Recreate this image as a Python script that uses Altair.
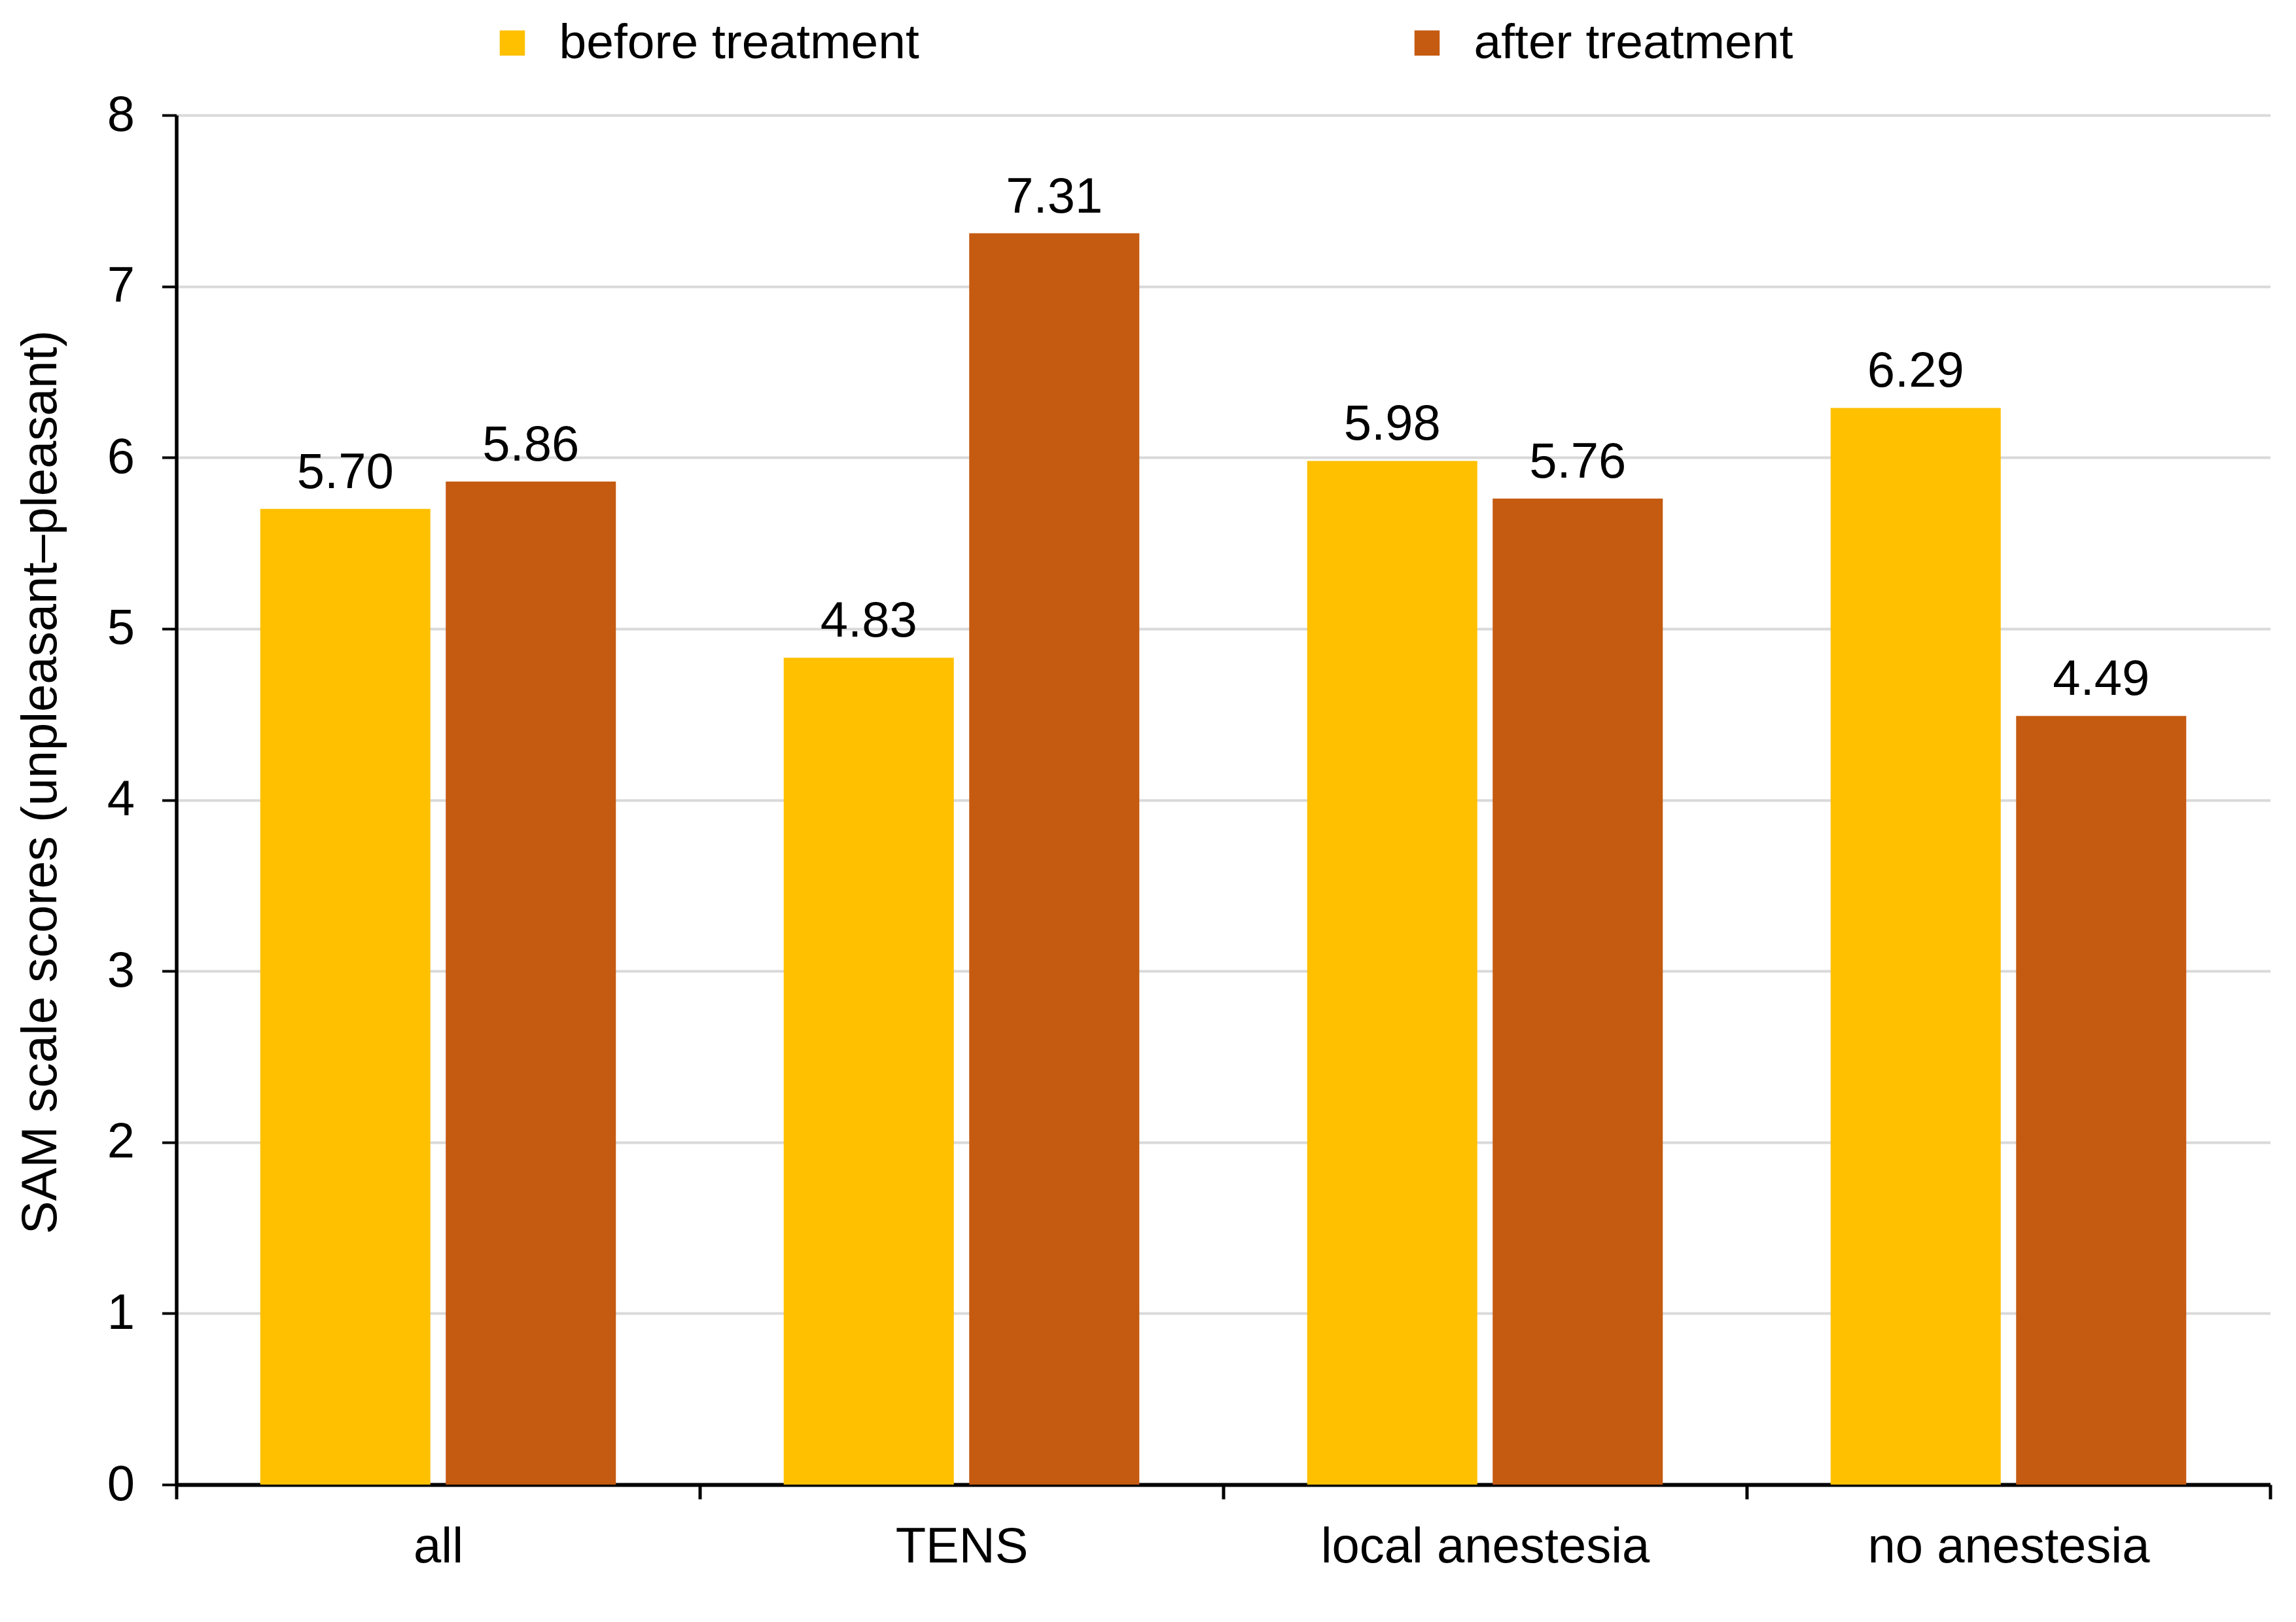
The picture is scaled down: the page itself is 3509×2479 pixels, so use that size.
import altair as alt
import pandas as pd

groups = ["all", "TENS", "local anestesia", "no anestesia"]
series = ["before treatment", "after treatment"]
before = [5.70, 4.83, 5.98, 6.29]
after = [5.86, 7.31, 5.76, 4.49]
colors = ["#FFC000", "#C55A11"]
y_ticks = [0, 1, 2, 3, 4, 5, 6, 7, 8]
y_title = "SAM scale scores (unpleasant\u2013pleasant)"

rows = []
for g, b, a in zip(groups, before, after):
    rows.append({"group": g, "series": series[0], "value": b})
    rows.append({"group": g, "series": series[1], "value": a})
df = pd.DataFrame(rows)

FONT = "Liberation Sans"
FS = 76

x = alt.X(
    "group:N",
    sort=groups,
    scale=alt.Scale(paddingInner=0, paddingOuter=0),
    axis=alt.Axis(
        title=None, tickBand="extent", labelAngle=0, labelFont=FONT,
        labelFontSize=FS, labelColor="black", labelBaseline="alphabetic",
        labelPadding=96, labelLimit=3000, tickSize=22, tickWidth=5,
        tickColor="black", domainColor="black", domainWidth=6, grid=False,
    ),
)
xo = alt.XOffset(
    "series:N", sort=series,
    scale=alt.Scale(paddingInner=0.0829, paddingOuter=0.4524),
)
y = alt.Y(
    "value:Q",
    scale=alt.Scale(domain=[0, 8], nice=False, zero=True),
    axis=alt.Axis(
        values=y_ticks, format="d", title=y_title,
        titleFont=FONT, titleFontSize=FS, titleFontWeight="normal",
        titleColor="black", titleAngle=270, titleX=-184.5, titleY=1019,
        titleAlign="center", titleBaseline="alphabetic", titleLimit=5000,
        labelFont=FONT, labelFontSize=FS, labelColor="black",
        labelPadding=42, tickSize=22, tickWidth=4, tickColor="black",
        domainColor="black", domainWidth=5.5,
        grid=True, gridColor="#D9D9D9", gridWidth=4,
    ),
)

base = alt.Chart(df).encode(x=x, xOffset=xo, y=y)

bars = base.mark_bar().encode(
    color=alt.Color(
        "series:N", sort=series,
        scale=alt.Scale(domain=series, range=colors),
        legend=alt.Legend(
            title=None, orient="none", legendX=476, legendY=-148,
            direction="horizontal", columns=2, columnPadding=738,
            symbolType="square", symbolSize=1482, symbolStrokeWidth=0,
            labelOffset=34, labelFont=FONT, labelFontSize=75,
            labelColor="black", labelLimit=2000, padding=0,
        ),
    )
)

labels = base.mark_text(
    font=FONT, fontSize=FS, baseline="alphabetic", dy=-32, color="black"
).encode(text=alt.Text("value:Q", format=".2f"))

chart = (
    alt.layer(bars, labels)
    .properties(
        width=3200, height=2093,
        autosize=alt.AutoSizeParams(type="none"),
        padding={"left": 261.5, "top": 168, "right": 31, "bottom": 202},
        background="white",
    )
    .configure_view(stroke=None)
)

chart.save("out.html", embed_options={"renderer": "svg", "actions": False})
